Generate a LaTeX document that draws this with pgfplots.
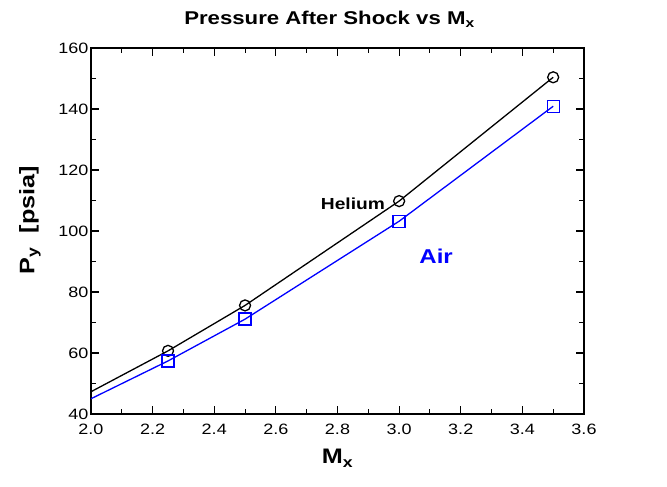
\documentclass[border=0pt]{standalone}
\usepackage{fontspec}
\setmainfont[FakeStretch=1.2]{Liberation Sans}
\usepackage{pgfplots}
\pgfplotsset{compat=1.18}
\definecolor{airblue}{RGB}{0,0,255}
\begin{document}
\begin{tikzpicture}
\begin{axis}[
  name=ax,
  scale only axis,
  width=493pt, height=366pt,
  xmin=2, xmax=3.6, ymin=40, ymax=160,
  xtick={2.0,2.2,2.4,2.6,2.8,3.0,3.2,3.4,3.6},
  ytick={40,60,80,100,120,140,160},
  minor x tick num=1, minor y tick num=1,
  tick align=inside,
  major tick length=8pt, minor tick length=5pt,
  every tick/.style={black, line width=1.1pt},
  axis line style={line width=1.6pt},
  /pgf/number format/assume math mode=true,
  ticklabel style={font=\fontsize{15}{17}\selectfont},
  x tick label style={yshift=-6pt, /pgf/number format/fixed, /pgf/number format/fixed zerofill, /pgf/number format/precision=1},
  y tick label style={xshift=1pt, yshift=0pt},
  title={Pressure After Shock vs M\textsubscript{x}},
  title style={font=\bfseries\fontsize{18.5}{20}\selectfont, at={(axis description cs:0.5,1)}, anchor=south, yshift=11pt, xshift=-8pt},
  xlabel={M\textsubscript{x}},
  xlabel style={font=\bfseries\fontsize{21}{24}\selectfont, at={(axis description cs:0.5,0)}, anchor=north, yshift=-32pt},
  ylabel={P\textsubscript{y}\ \ [psia]},
  ylabel style={font=\bfseries\fontsize{21}{24}\selectfont, at={(axis description cs:-0.124,0.53)}, anchor=center},
]
% Helium
\addplot[black, line width=1.3pt, mark=o, mark size=5.5pt, mark indices={2,3,4,5},
  mark options={fill=white, line width=1.3pt}] coordinates {
  (2.0,47.3) (2.25,60.7) (2.5,75.6) (3.0,109.8) (3.5,150.4)
};
% Air
\addplot[airblue, line width=1.3pt, mark=square, mark size=6pt, mark indices={2,3,4,5},
  mark options={fill=white, line width=1.3pt}] coordinates {
  (2.0,45.0) (2.25,57.4) (2.5,71.1) (3.0,103.2) (3.5,140.9)
};
\node[font=\bfseries\fontsize{16}{18}\selectfont] at (axis cs:2.85,109) {Helium};
\node[font=\bfseries\fontsize{20}{22}\selectfont, text=airblue] at (axis cs:3.12,91.8) {Air};
\end{axis}
\path[use as bounding box] ([xshift=-91pt,yshift=-73pt]ax.south west) rectangle ([xshift=83pt,yshift=48pt]ax.north east);
\end{tikzpicture}
\end{document}
